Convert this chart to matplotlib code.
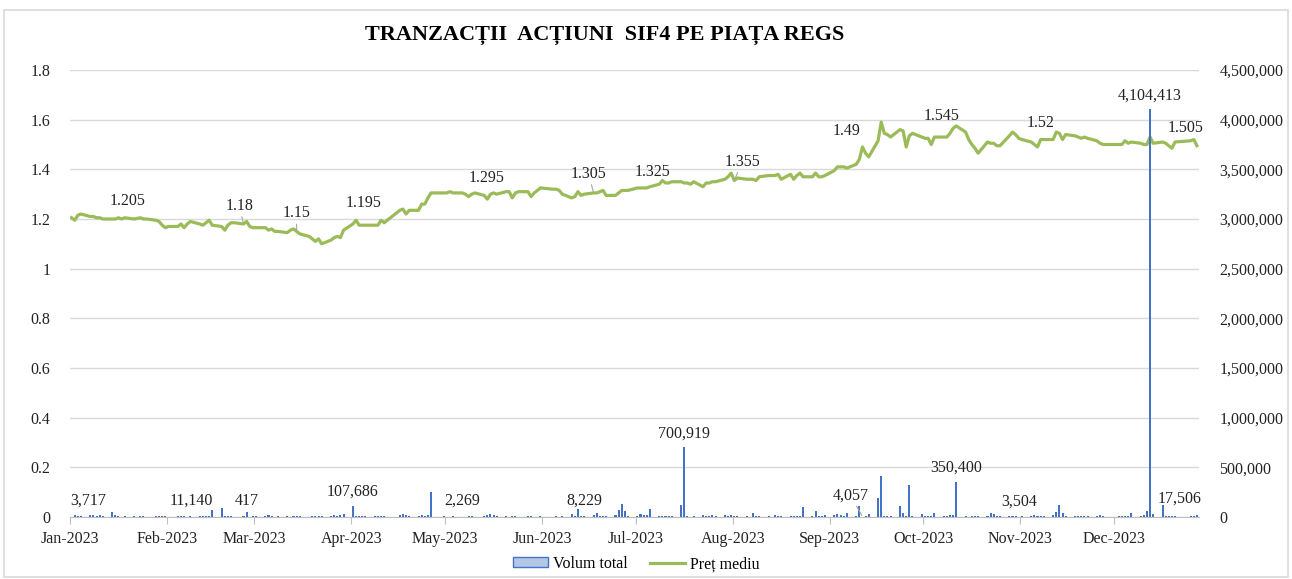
import numpy as np
import pandas as pd
import matplotlib
matplotlib.use("Agg")
import matplotlib.pyplot as plt
import matplotlib.dates as mdates
from matplotlib.patches import Rectangle, Patch
from matplotlib.lines import Line2D
from matplotlib.ticker import FuncFormatter

plt.rcParams['font.family'] = ['Liberation Serif', 'DejaVu Serif']

# BVB trading days 2023 (weekdays minus market holidays)
holidays = ['2023-01-02', '2023-01-24', '2023-04-14', '2023-04-17', '2023-05-01',
            '2023-06-01', '2023-06-05', '2023-08-15', '2023-11-30', '2023-12-01',
            '2023-12-25', '2023-12-26']

# average price per trading day, month by month
price_jan = [1.205, 1.195, 1.215, 1.22, 1.21, 1.21, 1.205, 1.205, 1.2, 1.2, 1.2, 1.205, 1.2, 1.205, 1.2,
             1.205, 1.2, 1.2, 1.195, 1.19]
price_feb = [1.175, 1.165, 1.17, 1.17, 1.18, 1.165, 1.18, 1.19, 1.18, 1.175, 1.185, 1.195, 1.175, 1.17, 1.155,
             1.175, 1.185, 1.185, 1.18, 1.19]
price_mar = [1.17, 1.165, 1.165, 1.165, 1.155, 1.16, 1.15, 1.15, 1.145, 1.155, 1.16, 1.15, 1.14, 1.13, 1.12,
             1.11, 1.12, 1.1, 1.115, 1.125, 1.13, 1.125, 1.155]
price_apr = [1.18, 1.195, 1.175, 1.175, 1.175, 1.175, 1.175, 1.195, 1.185, 1.235, 1.24, 1.22, 1.235, 1.235,
             1.26, 1.26, 1.285, 1.305]
price_may = [1.305, 1.305, 1.31, 1.305, 1.305, 1.3, 1.29, 1.3, 1.305, 1.295, 1.28, 1.3, 1.305, 1.3, 1.31,
             1.31, 1.285, 1.305, 1.31, 1.31, 1.29, 1.305]
price_jun = [1.325, 1.32, 1.32, 1.315, 1.3, 1.285, 1.29, 1.31, 1.295, 1.3, 1.305, 1.305, 1.31, 1.315, 1.295,
             1.295, 1.305, 1.315, 1.315, 1.315]
price_jul = [1.325, 1.325, 1.325, 1.325, 1.33, 1.34, 1.355, 1.345, 1.345, 1.35, 1.35, 1.345, 1.345, 1.34,
             1.35, 1.33, 1.345, 1.345, 1.35, 1.35, 1.36]
price_aug = [1.37, 1.385, 1.355, 1.365, 1.36, 1.36, 1.36, 1.355, 1.37, 1.375, 1.375, 1.38, 1.36, 1.38, 1.36,
             1.375, 1.385, 1.37, 1.37, 1.385, 1.37, 1.37]
price_sep = [1.375, 1.395, 1.41, 1.41, 1.41, 1.405, 1.42, 1.44, 1.49, 1.465, 1.45, 1.515, 1.59, 1.545, 1.54,
             1.53, 1.56, 1.555, 1.49, 1.535, 1.545]
price_oct = [1.53, 1.525, 1.525, 1.5, 1.53, 1.53, 1.53, 1.545, 1.565, 1.575, 1.55, 1.52, 1.5, 1.485, 1.465,
             1.51, 1.505, 1.505, 1.495, 1.495, 1.535, 1.55]
price_nov = [1.54, 1.525, 1.52, 1.51, 1.5, 1.49, 1.52, 1.52, 1.52, 1.55, 1.545, 1.52, 1.54, 1.535, 1.53,
             1.525, 1.53, 1.525, 1.515, 1.505, 1.5]
price_dec = [1.5, 1.5, 1.515, 1.505, 1.51, 1.505, 1.5, 1.5, 1.53, 1.505, 1.51, 1.505, 1.495, 1.485, 1.51,
             1.515, 1.52, 1.495]

# total volume per trading day
vol_jan = [3717, 18000, 12000, 6000, 22000, 25000, 15000, 20000, 8000, 52000, 20000, 15000, 5000, 10000,
           6000, 12000, 8000, 5000, 14000, 9000]
vol_feb = [10000, 8000, 5000, 6000, 12000, 9000, 5000, 11140, 7000, 9000, 6000, 10000, 70000, 90000, 15000,
           8000, 12000, 5000, 7000, 48000]
vol_mar = [417, 15000, 6000, 10000, 18000, 8000, 5000, 12000, 7000, 4000, 9000, 6000, 8000, 5000, 7000,
           10000, 6000, 8000, 15000, 20000, 12000, 25000, 30000]
vol_apr = [107686, 15000, 8000, 12000, 6000, 9000, 14000, 7000, 10000, 20000, 30000, 25000, 12000, 8000,
           18000, 10000, 22000, 255000]
vol_may = [8000, 5000, 3000, 6000, 2269, 4000, 9000, 12000, 5000, 7000, 25000, 28000, 20000, 6000, 8000,
           5000, 10000, 7000, 4000, 6000, 9000, 5000]
vol_jun = [6000, 5000, 8000, 4000, 7000, 30000, 15000, 77000, 12000, 8229, 20000, 43000, 15000, 10000,
           12000, 18000, 73000, 133000, 60000, 10000]
vol_jul = [10000, 27000, 20000, 25000, 77000, 12000, 8000, 15000, 10000, 6000, 117000, 700919, 8000, 5000,
           6000, 20000, 15000, 12000, 25000, 10000, 18000]
vol_aug = [12000, 18000, 6000, 10000, 8000, 5000, 37000, 12000, 9000, 15000, 20000, 10000, 7000, 12000,
           8000, 6000, 15000, 105000, 10000, 65000, 14000, 9000]
vol_sep = [20000, 25000, 27000, 22000, 15000, 43000, 10000, 110000, 4057, 8000, 33000, 195000, 415000,
           15000, 10000, 8000, 113000, 40000, 12000, 320000, 10000]
vol_oct = [35000, 10000, 8000, 12000, 45000, 6000, 15000, 20000, 18000, 350400, 9000, 5000, 7000, 6000,
           10000, 12000, 38000, 30000, 15000, 8000, 12000, 10000]
vol_nov = [15000, 3504, 12000, 10000, 18000, 8000, 6000, 14000, 20000, 55000, 118000, 45000, 10000, 8000,
           12000, 6000, 9000, 7000, 15000, 25000, 8000]
vol_dec = [6000, 10000, 12000, 15000, 42000, 8000, 20000, 60000, 4104413, 35000, 120000, 12000, 15000,
           8000, 10000, 6000, 12000, 17506]

# labelled points
price_lbl_dates = ['2023-01-20', '2023-02-27', '2023-03-16', '2023-04-04', '2023-05-15', '2023-06-19',
                   '2023-07-06', '2023-08-03', '2023-09-13', '2023-10-06', '2023-11-09', '2023-12-29']
price_lbl_values = [1.205, 1.18, 1.15, 1.195, 1.295, 1.305, 1.325, 1.355, 1.49, 1.545, 1.52, 1.505]
vol_lbl_dates = ['2023-01-03', '2023-02-10', '2023-03-01', '2023-04-03', '2023-05-08', '2023-06-16',
                 '2023-07-18', '2023-09-13', '2023-10-13', '2023-11-02', '2023-12-14', '2023-12-29']
vol_lbl_values = [3717, 11140, 417, 107686, 2269, 8229, 700919, 4057, 350400, 3504, 4104413, 17506]

# label text offsets in pixels, and which labels get a leader line
price_lbl_off = [(3, 17), (-4, 18), (0, 18), (8, 17), (2, 17), (-5, 19), (6, 16), (8, 19), (-16, 16),
                 (7, 17), (0, 17), (-11, 15)]
price_lbl_leader = [False, True, True, False, False, True, False, True, False, False, False, False]
vol_lbl_off = [(17, 16), (1, 15), (-3, 16), (0, 15), (0, 16), (0, 16), (0, 14), (-12, 21), (0, 15),
               (0, 15), (0, 14), (-17, 17)]
vol_lbl_leader = [False, False, False, False, False, False, False, True, False, False, False, False]

prices = (price_jan + price_feb + price_mar + price_apr + price_may + price_jun + price_jul + price_aug
          + price_sep + price_oct + price_nov + price_dec)
volumes = (vol_jan + vol_feb + vol_mar + vol_apr + vol_may + vol_jun + vol_jul + vol_aug
           + vol_sep + vol_oct + vol_nov + vol_dec)
days = pd.bdate_range('2023-01-01', '2023-12-31', freq='C', holidays=holidays)
n = min(len(days), len(prices), len(volumes))
# each day sits in the middle of its slot on the date axis
x = days[:n] + pd.Timedelta(hours=12)

fig = plt.figure(figsize=(12.92, 5.79), dpi=100)
ax = fig.add_axes([70 / 1292, 62 / 579, 1128.5 / 1292, 447 / 579])
ax2 = ax.twinx()

ax.plot(x, prices[:n], color='#9BBB59', lw=2.3, solid_joinstyle='round', zorder=3)
ax2.bar(x, volumes[:n], width=0.65, color='#4472C4', zorder=3)

ax.set_ylim(0, 1.8)
ax2.set_ylim(0, 4500000)
ax.set_yticks(np.arange(0, 1.81, 0.2))
ax2.set_yticks(np.arange(0, 4500001, 500000))
ax.yaxis.set_major_formatter(FuncFormatter(lambda v, p: '{:g}'.format(round(v, 1))))
ax2.yaxis.set_major_formatter(FuncFormatter(lambda v, p: '{:,.0f}'.format(v)))

ax.set_xlim(pd.Timestamp('2023-01-03'), pd.Timestamp('2023-12-30'))
ticks = pd.date_range('2023-01-01', '2023-12-01', freq='MS') + pd.Timedelta(days=2)
ax.set_xticks(ticks)
ax.xaxis.set_major_formatter(mdates.DateFormatter('%b-%Y'))

ax.grid(axis='y', color='#D9D9D9', lw=1)
ax.set_axisbelow(True)
for s in ['top', 'left', 'right']:
    ax.spines[s].set_visible(False)
for s in ax2.spines.values():
    s.set_visible(False)
ax.spines['bottom'].set_color('#BFBFBF')
ax.tick_params(axis='x', length=5, color='#BFBFBF', labelsize=11.5, pad=5, labelcolor='#222222')
ax.tick_params(axis='y', length=0, labelsize=11.5, pad=14, labelcolor='#222222')
ax2.tick_params(axis='y', length=0, labelsize=11.5, pad=15, labelcolor='#222222')

for d, v, off, lead in zip(price_lbl_dates, price_lbl_values, price_lbl_off, price_lbl_leader):
    ap = dict(arrowstyle='-', color='#A6A6A6', lw=0.8, shrinkA=0, shrinkB=1) if lead else None
    ax.annotate('{:g}'.format(v), xy=(pd.Timestamp(d) + pd.Timedelta(hours=12), v), xytext=off,
                textcoords='offset pixels', ha='center', va='center', fontsize=11.5,
                color='#222222', arrowprops=ap, zorder=5)

for d, v, off, lead in zip(vol_lbl_dates, vol_lbl_values, vol_lbl_off, vol_lbl_leader):
    ap = dict(arrowstyle='-', color='#A6A6A6', lw=0.8, shrinkA=0, shrinkB=1) if lead else None
    ax2.annotate('{:,}'.format(v), xy=(pd.Timestamp(d) + pd.Timedelta(hours=12), v), xytext=off,
                 textcoords='offset pixels', ha='center', va='center', fontsize=11.5,
                 color='#222222', arrowprops=ap, zorder=5)

fig.text(605 / 1292, 1 - 35 / 579, 'TRANZACȚII  ACȚIUNI  SIF4 PE PIAȚA REGS', ha='center', va='center',
         fontsize=16, fontweight='bold')

handles = [Patch(facecolor='#B4C7E7', edgecolor='#4472C4', lw=1),
           Line2D([0], [0], color='#9BBB59', lw=2.3)]
fig.legend(handles, ['Volum total', 'Preț mediu'], loc='center', bbox_to_anchor=(0.4926, 1 - 564 / 579),
           ncol=2, frameon=False, fontsize=11.5, handlelength=2.2, handleheight=0.6,
           handletextpad=0.3, columnspacing=1.4)

fig.patches.append(Rectangle((0.003, 0.004), 0.994, 0.978, transform=fig.transFigure,
                             fill=False, edgecolor='#D9D9D9', lw=1.2))

fig.savefig('out.png', dpi=100)
